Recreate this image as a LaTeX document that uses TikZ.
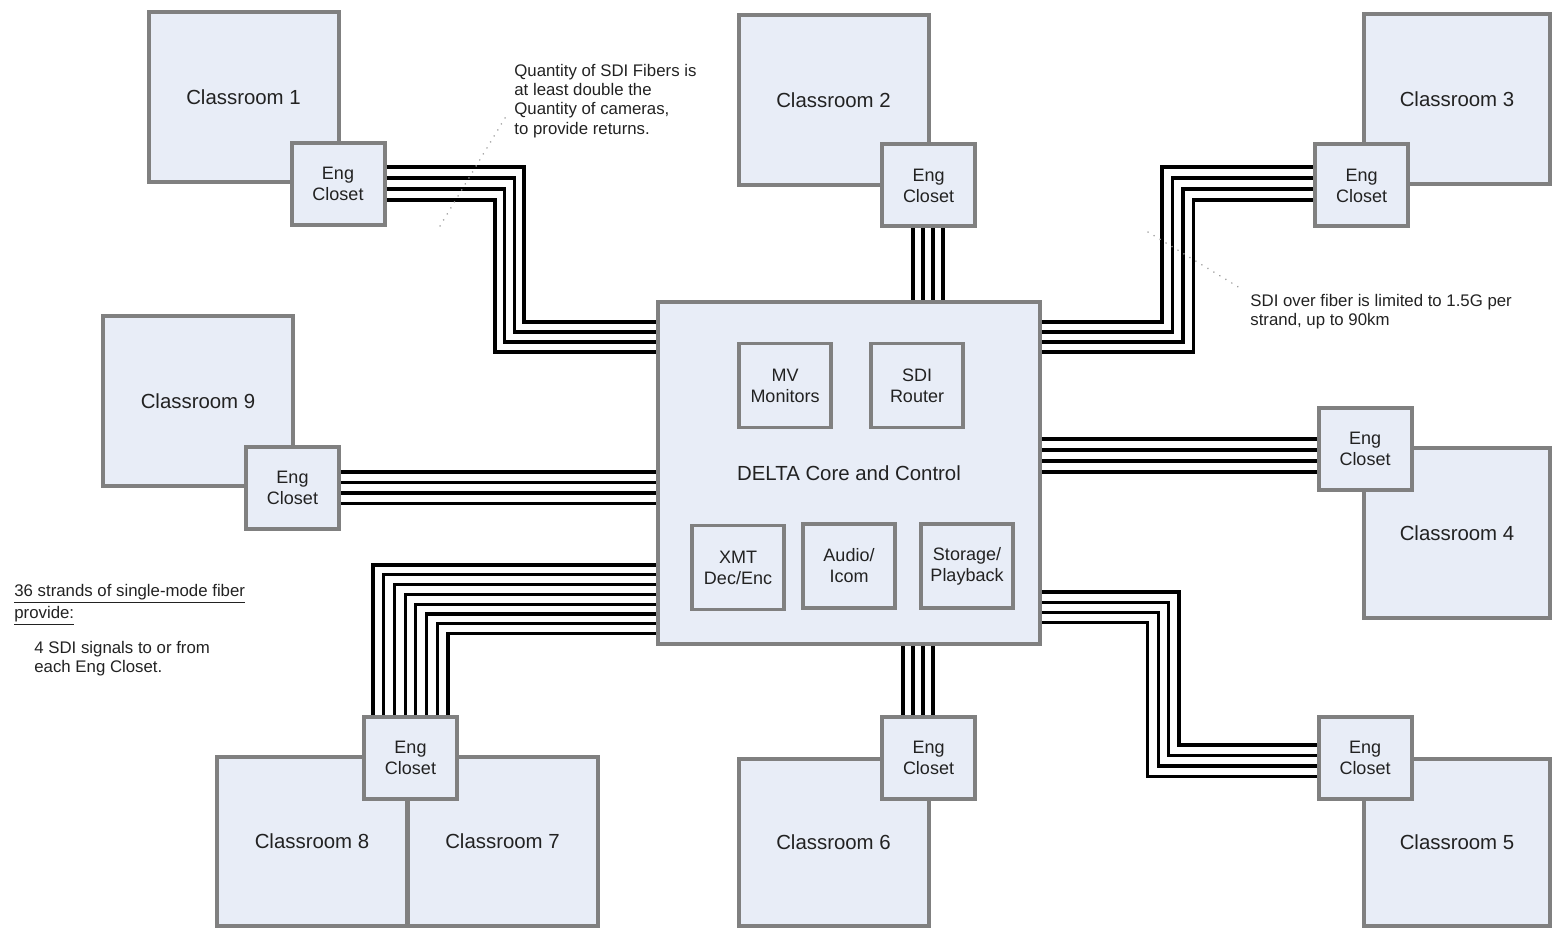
\documentclass[tikz,border=0pt]{standalone}
\usepackage{fontspec}
\setmainfont{Liberation Sans}
\definecolor{boxfill}{RGB}{232,237,247}
\definecolor{boxline}{RGB}{128,128,128}
\definecolor{txt}{RGB}{34,34,34}
\begin{document}
\begin{tikzpicture}[x=0.5pt,y=-0.5pt,
  room/.style={draw=boxline, fill=boxfill, line width=2pt, inner sep=0pt,
    minimum width=95pt, minimum height=85pt, text=txt,
    font=\fontsize{10.2}{12}\selectfont},
  closet/.style={draw=boxline, fill=boxfill, line width=2pt, inner sep=0pt,
    minimum width=46.5pt, minimum height=41pt, align=center, text=txt,
    font=\fontsize{9}{10.5}\selectfont},
  unitbox/.style={draw=boxline, fill=boxfill, line width=1.6pt, inner sep=0pt,
    minimum width=46pt, minimum height=42pt, align=center, text=txt,
    font=\fontsize{9}{10.5}\selectfont},
  corebox/.style={draw=boxline, fill=boxfill, line width=2.2pt, inner sep=0pt,
    minimum width=191pt, minimum height=171pt, text=txt,
    font=\fontsize{10.2}{12}\selectfont},
  fiber/.style={draw=black, line width=1.6pt},
  leader/.style={draw=gray!75, line width=0.8pt, dash pattern=on 0.1pt off 3.4pt, line cap=round},
  anno/.style={font=\fontsize{8.4}{9.6}\selectfont, align=left, inner sep=0pt, text=txt}
]
\useasboundingbox (0,0) rectangle (1552,930);

% classrooms
\node[room] (c1) at (243.5,97.5) {Classroom 1};
\node[room] (c2) at (833.5,100) {Classroom 2};
\node[room, minimum width=93pt] (c3) at (1457,99.5) {Classroom 3};
\node[room] (c9) at (198,401) {Classroom 9};
\node[room, minimum width=93pt] (c4) at (1457,533) {Classroom 4};
\node[room, minimum height=84.5pt] (c8) at (312,841.5) {Classroom 8};
\node[room, minimum height=84.5pt] (c7) at (502.5,841.5) {Classroom 7};
\node[room, minimum height=83.5pt] (c6) at (833.5,842.5) {Classroom 6};
\node[room, minimum width=93pt, minimum height=83.5pt] (c5) at (1457,842.5) {Classroom 5};

% engineering closets
\node[closet] (e1) at (338,184) {Eng\\Closet};
\node[closet] (e2) at (928.5,185.5) {Eng\\Closet};
\node[closet] (e3) at (1361.5,185.5) {Eng\\Closet};
\node[closet] (e9) at (292.5,488) {Eng\\Closet};
\node[closet] (e4) at (1365,449) {Eng\\Closet};
\node[closet] (e78) at (410.5,758) {Eng\\Closet};
\node[closet] (e6) at (928.5,758) {Eng\\Closet};
\node[closet] (e5) at (1365,758) {Eng\\Closet};

% core
\node[corebox] (core) at (849,473) {DELTA Core and Control};
\node[unitbox] (mv) at (785,385.5) {MV\\Monitors};
\node[unitbox] (sdi) at (917,385.5) {SDI\\Router};
\node[unitbox] (xmt) at (738,567.5) {XMT\\Dec/Enc};
\node[unitbox] (aud) at (849,566) {Audio/\\Icom};
\node[unitbox] (sto) at (967,566) {Storage/\\Playback};

% fibers
\foreach \i in {0,...,3} {
  % closet 1 -> core
  \pgfmathsetmacro\ya{167+11*\i}
  \pgfmathsetmacro\xv{524-9.7*\i}
  \pgfmathsetmacro\yb{322+10*\i}
  \draw[fiber] (e1.east |- 0,\ya) -| (\xv,\yb) -- (core.west |- 0,\yb);
  % core -> closet 3
  \pgfmathsetmacro\xw{1162+10.5*\i}
  \draw[fiber] (core.east |- 0,\yb) -| (\xw,\ya) -- (e3.west |- 0,\ya);
  % closet 2 -> core
  \pgfmathsetmacro\xt{913+10*\i}
  \draw[fiber] (e2.south -| \xt,0) -- (core.north -| \xt,0);
  % core -> closet 6
  \pgfmathsetmacro\xs{903+10*\i}
  \draw[fiber] (core.south -| \xs,0) -- (e6.north -| \xs,0);
  % core -> closet 4
  \pgfmathsetmacro\yr{439+11*\i}
  \draw[fiber] (core.east |- 0,\yr) -- (e4.west |- 0,\yr);
  % closet 9 -> core
  \pgfmathsetmacro\yl{472+10.5*\i}
  \draw[fiber] (e9.east |- 0,\yl) -- (core.west |- 0,\yl);
  % core -> closet 5
  \pgfmathsetmacro\yc{592+10.2*\i}
  \pgfmathsetmacro\xf{1179-10.4*\i}
  \pgfmathsetmacro\yd{745+10.5*\i}
  \draw[fiber] (core.east |- 0,\yc) -| (\xf,\yd) -- (e5.west |- 0,\yd);
}
\foreach \i in {0,...,7} {
  \pgfmathsetmacro\ya{565+9.8*\i}
  \pgfmathsetmacro\xv{373+10.7*\i}
  \draw[fiber] (core.west |- 0,\ya) -| (e78.north -| \xv,0);
}

% annotations
\node[anno, anchor=north west] (ann1) at (514,64)
  {Quantity of SDI Fibers is\\at least double the\\Quantity of cameras,\\to provide returns.};
\coordinate (l1a) at (440,226);
\coordinate (l1b) at (508,113);
\draw[leader] (l1a) -- (l1b);

\node[anno, anchor=north west] (ann2) at (1250,294)
  {SDI over fiber is limited to 1.5G per\\strand, up to 90km};
\coordinate (l2a) at (1148,232);
\coordinate (l2b) at (1240,288);
\draw[leader] (l2a) -- (l2b);

\node[anno, anchor=north west] (ann3) at (14,584)
  {\underline{36 strands of single-mode fiber}\\\underline{provide:}};
\node[anno, anchor=north west] (ann4) at (34,641)
  {4 SDI signals to or from\\each Eng Closet.};
\end{tikzpicture}
\end{document}
